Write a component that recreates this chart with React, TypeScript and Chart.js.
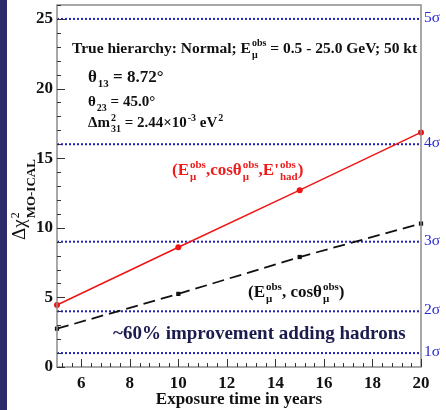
import React, { useEffect, useRef } from 'react';
import { Chart, registerables } from 'chart.js';

Chart.register(...registerables);

// ---------- data ----------
const years = [5, 10, 15, 20];
const chiWithHadrons = [4.45, 8.6, 12.7, 16.85];
const chiMuonOnly = [2.75, 5.25, 7.9, 10.3];
const sigmaLevels = [1, 4, 9, 16, 25];
const sigmaLabels = ['1σ', '2σ', '3σ', '4σ', '5σ'];
const xTickValues = [6, 8, 10, 12, 14, 16, 18, 20];
const yTickValues = [0, 5, 10, 15, 20, 25];

const SERIF = '"Liberation Serif", "Times New Roman", serif';

type Seg = { t: string; sup?: string; sub?: string };

function drawRich(
  ctx: CanvasRenderingContext2D,
  x: number,
  y: number,
  segs: Seg[],
  size: number,
  color: string,
  weight = 'bold',
  scriptScale = 0.65,
  supUp = 0.42,
  subDown = 0.3
) {
  ctx.save();
  ctx.fillStyle = color;
  ctx.textBaseline = 'alphabetic';
  ctx.textAlign = 'left';
  const main = `${weight} ${size}px ${SERIF}`;
  const small = `${weight} ${Math.round(size * scriptScale)}px ${SERIF}`;
  let cx = x;
  for (const s of segs) {
    ctx.font = main;
    if (s.t) {
      ctx.fillText(s.t, cx, y);
      cx += ctx.measureText(s.t).width;
    }
    ctx.font = small;
    let w = 0;
    if (s.sup) {
      ctx.fillText(s.sup, cx + 1, y - size * supUp);
      w = Math.max(w, ctx.measureText(s.sup).width + 1);
    }
    if (s.sub) {
      ctx.fillText(s.sub, cx + 1, y + size * subDown);
      w = Math.max(w, ctx.measureText(s.sub).width + 1);
    }
    cx += w;
  }
  ctx.restore();
  return cx - x;
}

const decorPlugin = {
  id: 'decor',
  afterDraw(chart: any) {
    const ctx: CanvasRenderingContext2D = chart.ctx;
    const { left, right, top, bottom } = chart.chartArea;
    const xs = chart.scales.x;
    const ys = chart.scales.y;

    ctx.save();
    // frame
    ctx.strokeStyle = '#8c8c8c';
    ctx.lineWidth = 1.5;
    ctx.strokeRect(left, top, right - left, bottom - top);

    // inner ticks
    ctx.strokeStyle = '#333';
    ctx.lineWidth = 1;
    ctx.beginPath();
    for (let v = 0; v <= 26; v++) {
      const py = Math.round(ys.getPixelForValue(v)) + 0.5;
      const len = v % 5 === 0 ? 8 : 4;
      ctx.moveTo(left, py);
      ctx.lineTo(left + len, py);
    }
    for (let k = 13; k <= 50; k++) {
      const v = k * 0.4;
      const px = Math.round(xs.getPixelForValue(v)) + 0.5;
      const major = k % 5 === 0;
      const len = major ? 8 : 4;
      ctx.moveTo(px, bottom);
      ctx.lineTo(px, bottom - len);
    }
    ctx.stroke();
    ctx.restore();

    // annotations
    drawRich(ctx, 72, 53, [
      { t: 'True hierarchy: Normal; E', sup: 'obs', sub: 'μ' },
      { t: ' = 0.5 - 25.0 GeV; 50 kt' },
    ], 15.5, '#111');
    drawRich(ctx, 88, 82, [{ t: 'θ', sub: '13' }, { t: ' = 8.72°' }], 17, '#111');
    drawRich(ctx, 88, 106, [{ t: 'θ', sub: '23' }, { t: ' = 45.0°' }], 15, '#111');
    drawRich(ctx, 88, 127, [
      { t: 'Δm', sup: '2', sub: '31' },
      { t: ' = 2.44×10', sup: '-3' },
      { t: ' eV', sup: '2' },
    ], 15, '#111');

    drawRich(ctx, 172, 175, [
      { t: '(E', sup: 'obs', sub: 'μ' },
      { t: ',cosθ', sup: 'obs', sub: 'μ' },
      { t: ",E'", sup: 'obs', sub: 'had' },
      { t: ')' },
    ], 17, '#ee1c1c');

    drawRich(ctx, 248, 297, [
      { t: '(E', sup: 'obs', sub: 'μ' },
      { t: ', cosθ', sup: 'obs', sub: 'μ' },
      { t: ')' },
    ], 17, '#111');

    drawRich(ctx, 113, 339, [{ t: '~60% improvement adding hadrons' }], 19, '#1b1b4e');

    // y axis title (rotated)
    ctx.save();
    ctx.translate(25, 240);
    ctx.rotate(-Math.PI / 2);
    ctx.fillStyle = '#111';
    ctx.textBaseline = 'alphabetic';
    ctx.textAlign = 'left';
    ctx.font = `normal 19px ${SERIF}`;
    ctx.fillText('Δχ', 0, 0);
    const w0 = ctx.measureText('Δχ').width;
    ctx.font = `normal 12px ${SERIF}`;
    ctx.fillText('2', w0 + 1, -6);
    ctx.font = `bold 13px ${SERIF}`;
    ctx.fillText('MO-ICAL', w0 + 1, 10);
    ctx.restore();
  },
};

const zeroPad = (s: any) => {
  s.paddingTop = 0;
  s.paddingBottom = 0;
  s.paddingLeft = 0;
  s.paddingRight = 0;
};

export default function App() {
  const ref = useRef<HTMLCanvasElement | null>(null);

  useEffect(() => {
    document.body.style.margin = '0';
    const canvas = ref.current;
    if (!canvas) return;

    const tickFont = { family: SERIF, size: 17, weight: 'bold' as const };

    const sigmaDatasets = sigmaLevels.map((lvl) => ({
      type: 'line' as const,
      data: [
        { x: years[0], y: lvl },
        { x: years[years.length - 1], y: lvl },
      ],
      borderColor: '#2020b8',
      borderWidth: 2,
      borderDash: [2, 2],
      pointRadius: 0,
      fill: false,
      order: 5,
    }));

    const chart = new Chart(canvas, {
      type: 'line',
      data: {
        datasets: [
          {
            data: years.map((x, i) => ({ x, y: chiWithHadrons[i] })),
            borderColor: '#f01414',
            backgroundColor: '#f01414',
            borderWidth: 1.5,
            pointStyle: 'circle',
            pointRadius: 3,
            pointBorderWidth: 0,
            clip: false,
            order: 1,
          },
          {
            data: years.map((x, i) => ({ x, y: chiMuonOnly[i] })),
            borderColor: '#111',
            backgroundColor: '#111',
            borderWidth: 1.8,
            borderDash: [12, 6],
            pointStyle: 'rect',
            pointRadius: 3,
            pointBorderWidth: 0,
            clip: false,
            order: 2,
          },
          ...sigmaDatasets,
        ] as any,
      },
      options: {
        animation: false,
        responsive: false,
        maintainAspectRatio: false,
        layout: { padding: { top: 5, right: 0, bottom: 0, left: 0 } },
        plugins: { legend: { display: false }, tooltip: { enabled: false } },
        scales: {
          x: {
            type: 'linear',
            min: 5,
            max: 20,
            afterBuildTicks: (s: any) => {
              s.ticks = xTickValues.map((v) => ({ value: v }));
            },
            afterFit: (s: any) => {
              s.height = 43;
              zeroPad(s);
            },
            grid: { display: false, drawTicks: false },
            border: { display: false },
            ticks: { font: tickFont, color: '#111', padding: 6, maxRotation: 0, autoSkip: false },
            title: {
              display: true,
              text: 'Exposure time in years',
              font: tickFont,
              color: '#111',
              padding: { top: 0, bottom: 0 },
            },
          },
          y: {
            type: 'linear',
            min: 0,
            max: 26,
            afterBuildTicks: (s: any) => {
              s.ticks = yTickValues.map((v) => ({ value: v }));
            },
            afterFit: (s: any) => {
              s.width = 57;
              zeroPad(s);
            },
            grid: { display: false, drawTicks: false },
            border: { display: false },
            ticks: { font: tickFont, color: '#111', padding: 4, autoSkip: false },
          },
          ySigma: {
            type: 'linear',
            position: 'right',
            min: 0,
            max: 26,
            afterBuildTicks: (s: any) => {
              s.ticks = sigmaLevels.map((v) => ({ value: v }));
            },
            afterFit: (s: any) => {
              s.width = 25;
              zeroPad(s);
            },
            grid: { display: false, drawTicks: false },
            border: { display: false },
            ticks: {
              font: { family: SERIF, size: 15.5, weight: 'normal' as const },
              color: '#2828d4',
              padding: 3,
              labelOffset: -1,
              autoSkip: false,
              callback: (_v: any, i: number) => sigmaLabels[i],
            },
          },
        },
      } as any,
      plugins: [decorPlugin],
    });

    return () => chart.destroy();
  }, []);

  return (
    <div style={{ position: 'fixed', left: 0, top: 0, width: 446, height: 410, background: '#fff' }}>
      <div style={{ position: 'absolute', left: 0, top: 0, width: 7, height: 410, background: '#2d2a6b' }} />
      <canvas ref={ref} width={446} height={410} style={{ position: 'absolute', left: 0, top: 0 }} />
    </div>
  );
}
